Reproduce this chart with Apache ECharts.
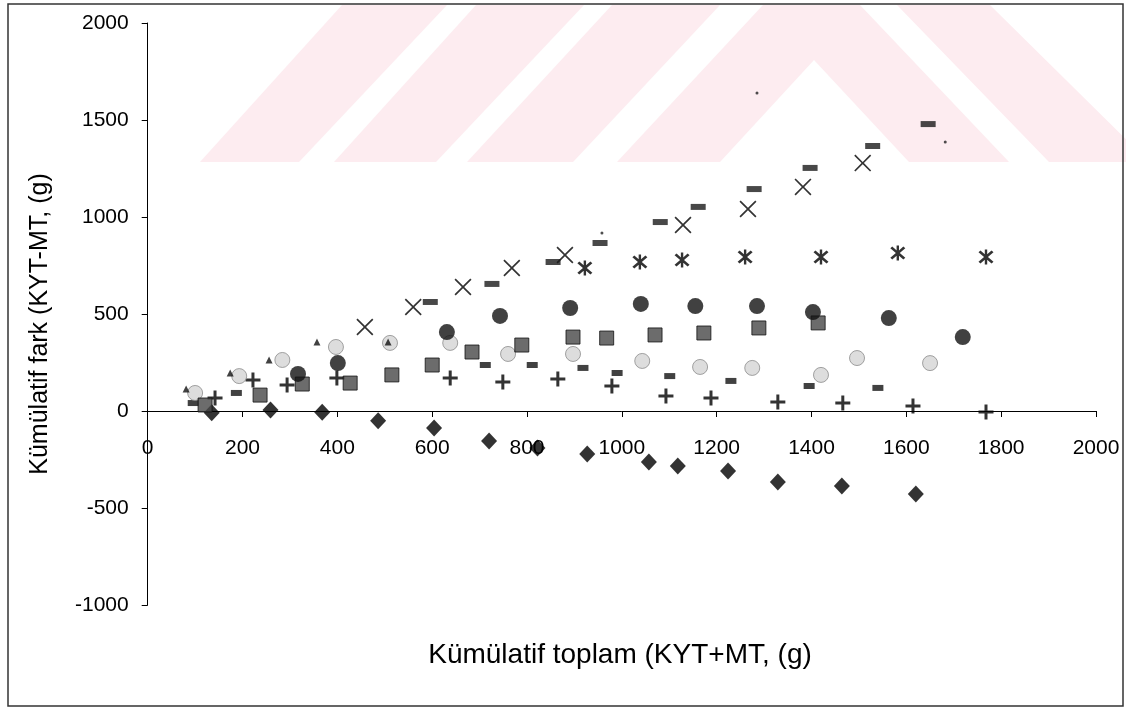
<!DOCTYPE html>
<html>
<head>
<meta charset="utf-8">
<script src="https://cdn.jsdelivr.net/npm/echarts@6/dist/echarts.min.js"></script>
<style>
  html, body { margin: 0; padding: 0; background: #fff; }
  #chart { width: 1126px; height: 708px; }
</style>
</head>
<body>
<div id="chart"></div>
<script>
// Cumulative sum (KYT+MT) vs cumulative difference (KYT-MT), one array per sample
const diamondPts  = [[135,-9],[259,5],[368,-7],[486,-50],[604,-88],[720,-155],[822,-191],[927,-222],[1057,-263],[1118,-284],[1224,-309],[1329,-366],[1464,-387],[1620,-428]];
const plusPts     = [[142,67],[222,160],[294,134],[399,170],[638,170],[749,149],[865,165],[979,129],[1093,77],[1188,67],[1329,46],[1466,41],[1614,26],[1768,-5]];
const lowDashPts  = [[96,41],[187,93],[712,237],[811,237],[918,222],[990,196],[1101,180],[1230,155],[1395,129],[1540,119]];
const greyPts     = [[100,93],[193,180],[284,263],[397,330],[511,351],[638,351],[760,294],[897,294],[1043,258],[1165,227],[1275,222],[1420,186],[1496,273],[1650,247]];
const squarePts   = [[121,31],[237,82],[326,139],[427,144],[515,186],[600,237],[684,304],[789,340],[897,381],[968,376],[1070,392],[1173,402],[1289,428],[1414,454]];
const circlePts   = [[317,191],[401,247],[631,407],[743,490],[891,531],[1040,552],[1155,541],[1285,541],[1403,510],[1563,479],[1719,381]];
const asteriskPts = [[922,737],[1038,768],[1127,778],[1260,794],[1420,794],[1582,814],[1768,794]];
const crossPts    = [[458,433],[560,536],[665,639],[768,737],[880,804],[1129,959],[1266,1041],[1382,1155],[1508,1278]];
const topDashPts  = [[596,562],[726,655],[855,768],[954,866],[1081,974],[1161,1052],[1279,1144],[1397,1253],[1529,1366],[1646,1479]];
const trianglePts = [[81,113],[174,196],[256,263],[357,356],[507,356]];
const dotPts      = [[958,918],[1285,1639],[1682,1387]];

const xTicks = { min: 0, max: 2000, step: 200 };
const yTicks = { min: -1000, max: 2000, step: 500 };

const xTitle = 'Kümülatif toplam (KYT+MT, (g)';
const yTitle = 'Kümülatif fark (KYT-MT, (g)';

const FONT = '"Liberation Sans", Arial, sans-serif';

const PLUS  = 'path://M4,0H6V4H10V6H6V10H4V6H0V4H4Z';
const CROSS = 'path://M0,0.7L0.7,0L5,4.3L9.3,0L10,0.7L5.7,5L10,9.3L9.3,10L5,5.7L0.7,10L0,9.3L4.3,5Z';
const ASTER = 'path://M0,1.3L1.3,0L5,3.7L8.7,0L10,1.3L6.3,5L10,8.7L8.7,10L5,6.3L1.3,10L0,8.7L3.7,5Z M4.2,-0.8H5.8V10.8H4.2Z';

const GRID = { left: 147.7, right: 30, top: 23, bottom: 103 };
const PLOT_H = 708 - GRID.top - GRID.bottom;
// shift the horizontal axis (line, ticks and labels) up to the y = 0 level
const xAxisOffset = -PLOT_H * (0 - yTicks.min) / (yTicks.max - yTicks.min);

function scatter(name, data, symbol, size, itemStyle) {
  return { name, type: 'scatter', data, symbol, symbolSize: size, itemStyle, emphasis: { disabled: true }, silent: true };
}

// faint diagonal-stripe emblem behind the plot
const pink = '#fdecf0';
const emblem = [
  [[200,162],[299,162],[447,5],[342,5]],
  [[334,162],[436,162],[584,5],[476,5]],
  [[467,162],[573,162],[720,5],[612,5]],
  [[617,162],[763,5],[860,5],[1009,162],[909,162],[814,60],[720,162]],
  [[897,5],[990,5],[1149,162],[1049,162]]
].map(pts => ({ type: 'polygon', z: -10, silent: true, shape: { points: pts }, style: { fill: pink } }));

const plain = v => String(v);

const chart = echarts.init(document.getElementById('chart'), null, { renderer: 'canvas' });
chart.setOption({
  backgroundColor: '#ffffff',
  animation: false,
  textStyle: { fontFamily: FONT },
  grid: Object.assign({ containLabel: false }, GRID),
  xAxis: {
    type: 'value', min: xTicks.min, max: xTicks.max, interval: xTicks.step,
    offset: xAxisOffset,
    axisLine: { show: true, onZero: false, lineStyle: { color: '#000', width: 1 } },
    axisTick: { show: true, length: 6, lineStyle: { color: '#000' } },
    axisLabel: { show: true, color: '#000', fontSize: 21, fontFamily: FONT, margin: 27, formatter: plain, showMinLabel: true, showMaxLabel: true },
    splitLine: { show: false }
  },
  yAxis: {
    type: 'value', min: yTicks.min, max: yTicks.max, interval: yTicks.step,
    axisLine: { show: true, onZero: false, lineStyle: { color: '#000', width: 1 } },
    axisTick: { show: true, length: 6, lineStyle: { color: '#000' } },
    axisLabel: { color: '#000', fontSize: 21, fontFamily: FONT, margin: 19, formatter: plain },
    splitLine: { show: false }
  },
  graphic: emblem.concat([
    { type: 'rect', z: 50, silent: true, shape: { x: 8, y: 4, width: 1115, height: 702 },
      style: { fill: 'transparent', stroke: '#333', lineWidth: 1.5 } },
    { type: 'text', z: 50, silent: true, x: 620, y: 655,
      style: { text: xTitle, font: '28px ' + FONT, fill: '#000', align: 'center', verticalAlign: 'middle', textAlign: 'center', textVerticalAlign: 'middle' } },
    { type: 'text', z: 50, silent: true, x: 40, y: 324, rotation: Math.PI / 2,
      style: { text: yTitle, font: '25px ' + FONT, fill: '#000', align: 'center', verticalAlign: 'middle', textAlign: 'center', textVerticalAlign: 'middle' } }
  ]),
  series: [
    scatter('diamond', diamondPts, 'diamond', [16, 17], { color: '#000' }),
    scatter('plus', plusPts, PLUS, 15, { color: '#000' }),
    scatter('lowDash', lowDashPts, 'rect', [11, 6], { color: '#111' }),
    scatter('grey', greyPts, 'circle', 15, { color: '#d4d4d4', borderColor: '#8c8c8c', borderWidth: 1 }),
    scatter('square', squarePts, 'rect', 14, { color: '#474747', borderColor: '#111', borderWidth: 1 }),
    scatter('circle', circlePts, 'circle', 16, { color: '#111' }),
    scatter('asterisk', asteriskPts, ASTER, 15, { color: '#000' }),
    scatter('cross', crossPts, CROSS, 17, { color: '#000' }),
    scatter('topDash', topDashPts, 'rect', [15, 6], { color: '#1a1a1a' }),
    scatter('triangle', trianglePts, 'triangle', 7, { color: '#111' }),
    scatter('dot', dotPts, 'circle', 3, { color: '#222' })
  ]
});
</script>
</body>
</html>
